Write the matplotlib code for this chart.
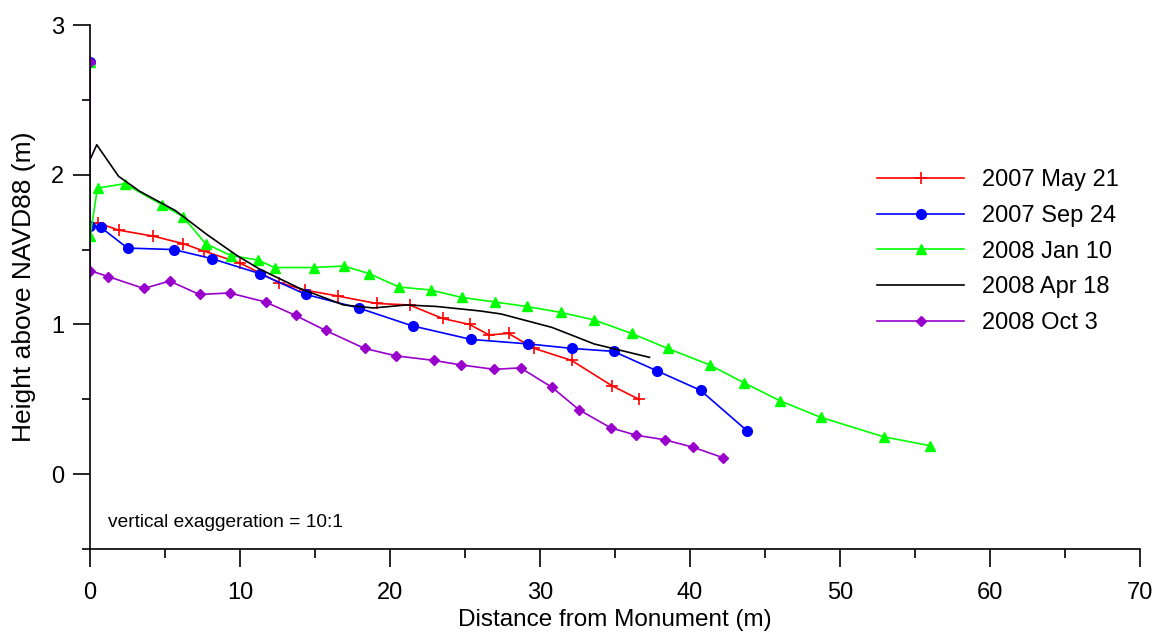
import matplotlib
matplotlib.use("Agg")
import matplotlib.pyplot as plt
from matplotlib.ticker import MultipleLocator

plt.rcParams['font.family'] = ['Liberation Sans', 'DejaVu Sans']

may21_x = [0, 0, 0.5, 1.9, 4.2, 6.2, 7.6, 10.0, 12.6, 14.3, 16.5, 19.1, 21.3, 23.5, 25.3, 26.6, 27.9, 29.6, 32.1, 34.8, 36.6]
may21_y = [2.75, 1.66, 1.68, 1.63, 1.59, 1.54, 1.49, 1.41, 1.28, 1.23, 1.19, 1.14, 1.13, 1.04, 1.00, 0.93, 0.94, 0.84, 0.76, 0.59, 0.50]

sep24_x = [0, 0, 0.7, 2.5, 5.6, 8.1, 11.3, 14.4, 17.9, 21.5, 25.4, 29.2, 32.1, 34.9, 37.8, 40.7, 43.8]
sep24_y = [2.75, 1.66, 1.65, 1.51, 1.50, 1.44, 1.34, 1.20, 1.11, 0.99, 0.90, 0.87, 0.84, 0.82, 0.69, 0.56, 0.29]

jan10_x = [0, 0, 0.5, 2.3, 4.8, 6.2, 7.7, 9.4, 11.2, 12.3, 14.9, 16.9, 18.6, 20.6, 22.7, 24.8, 27.0, 29.1, 31.4, 33.6, 36.1, 38.5, 41.3, 43.6, 46.0, 48.7, 52.9, 56.0]
jan10_y = [2.75, 1.59, 1.91, 1.94, 1.80, 1.72, 1.54, 1.46, 1.43, 1.38, 1.38, 1.39, 1.34, 1.25, 1.23, 1.18, 1.15, 1.12, 1.08, 1.03, 0.94, 0.84, 0.73, 0.61, 0.49, 0.38, 0.25, 0.19]

apr18_x = [0, 0, 0.45, 1.9, 3.3, 5.7, 7.8, 9.8, 11.3, 14.0, 16.9, 18.9, 21.1, 23.1, 26.0, 27.4, 30.8, 33.6, 37.3]
apr18_y = [2.75, 2.10, 2.20, 1.99, 1.89, 1.76, 1.60, 1.46, 1.37, 1.24, 1.13, 1.11, 1.13, 1.12, 1.09, 1.07, 0.98, 0.87, 0.78]

oct3_x = [0, 0, 1.2, 3.6, 5.3, 7.3, 9.3, 11.7, 13.7, 15.7, 18.3, 20.4, 22.9, 24.7, 26.95, 28.7, 30.8, 32.6, 34.7, 36.4, 38.3, 40.2, 42.2]
oct3_y = [2.75, 1.36, 1.32, 1.24, 1.29, 1.20, 1.21, 1.15, 1.06, 0.96, 0.84, 0.79, 0.76, 0.73, 0.70, 0.71, 0.58, 0.43, 0.31, 0.26, 0.23, 0.18, 0.11]

labels = ['2007 May 21', '2007 Sep 24', '2008 Jan 10', '2008 Apr 18', '2008 Oct 3']

fig = plt.figure(figsize=(11.57, 6.33), dpi=100)
ax = fig.add_axes([90/1157, 84/633, 1050/1157, 524/633])

lw = 1.2
ax.plot(may21_x, may21_y, color='#ff0000', lw=lw, marker='+', ms=9, mew=1.2, label=labels[0])
ax.plot(sep24_x, sep24_y, color='#0000ff', lw=lw, marker='o', ms=7, label=labels[1])
ax.plot(jan10_x, jan10_y, color='#00ff00', lw=lw, marker='^', ms=7, label=labels[2])
ax.plot(apr18_x, apr18_y, color='#000000', lw=lw, label=labels[3])
ax.plot(oct3_x, oct3_y, color='#9900cc', lw=lw, marker='D', ms=5.5, label=labels[4])

ax.set_xlim(0, 70)
ax.set_ylim(-0.5, 3)
ax.spines['top'].set_visible(False)
ax.spines['right'].set_visible(False)
ax.spines['left'].set_linewidth(1.2)
ax.spines['bottom'].set_linewidth(1.2)

ax.xaxis.set_major_locator(MultipleLocator(10))
ax.xaxis.set_minor_locator(MultipleLocator(5))
ax.yaxis.set_major_locator(MultipleLocator(1))
ax.yaxis.set_minor_locator(MultipleLocator(0.5))
ax.tick_params(axis='x', which='major', direction='out', length=13, width=1.2, labelsize=17, pad=11)
ax.tick_params(axis='x', which='minor', direction='out', length=6.5, width=1.2)
ax.tick_params(axis='y', which='major', direction='out', length=12, width=1.2, labelsize=17, pad=6.5)
ax.tick_params(axis='y', which='minor', direction='out', length=6, width=1.2)
for sp in ['left', 'bottom']:
    ax.spines[sp].set_clip_on(False)

ax.set_xlabel('Distance from Monument (m)', fontsize=17.5, labelpad=3.5)
ax.set_ylabel('Height above NAVD88 (m)', fontsize=19, labelpad=11)

ax.text(1.2, -0.32, 'vertical exaggeration = 10:1', fontsize=13.8, va='center', ha='left')

leg = ax.legend(loc='upper left', bbox_to_anchor=(877/1157, 464/633), bbox_transform=fig.transFigure,
                frameon=False, fontsize=17, handlelength=3.7, handletextpad=0.75, labelspacing=0.585,
                borderaxespad=0, borderpad=0)

fig.savefig('out.png', dpi=100)
